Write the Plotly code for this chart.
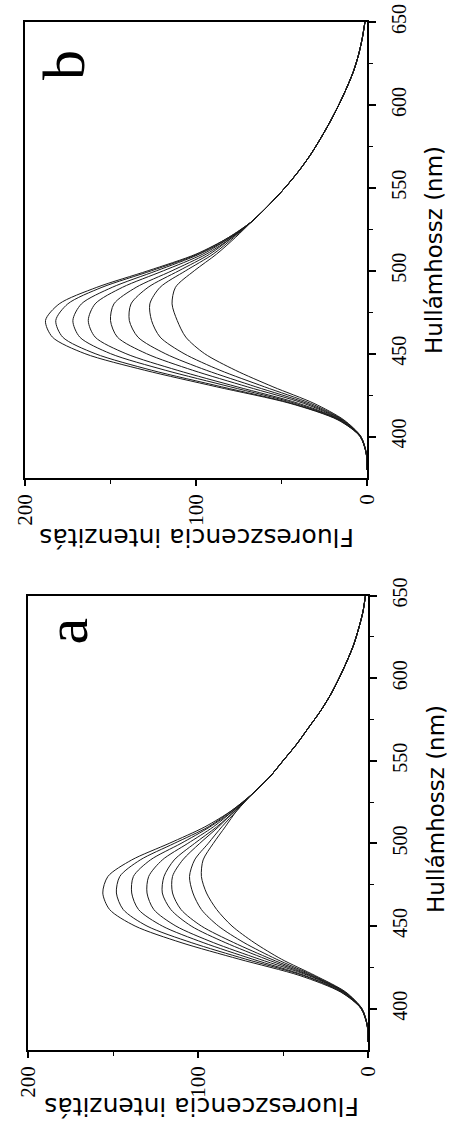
import plotly.graph_objects as go

# Wavelength grid (nm): rising part + shared red tail
WL_HEAD = [380, 390, 400, 410, 420, 430, 440, 450, 460, 470, 480, 490, 500, 510, 520, 530]
WL_TAIL = [540, 550, 560, 570, 580, 590, 600, 610, 620, 630, 640, 650]

# Panel a: fluorescence intensity, eight spectra (blue side + peak)
A1 = [0, 0.5, 4.0, 16.0, 40, 76, 110, 137, 152, 156, 153, 139, 117, 96, 80, 68]
A2 = [0, 0.5, 4.0, 15.5, 38, 72, 104, 130, 144, 148, 146, 134, 114, 94, 80, 68]
A3 = [0, 0.5, 4.0, 15.0, 37, 68, 97, 121, 135, 139, 138, 128, 110, 93, 79, 68]
A4 = [0, 0.5, 3.9, 14.5, 35, 64, 91, 113, 126, 130, 129, 121, 106, 91, 79, 68]
A5 = [0, 0.5, 3.8, 14.0, 34, 60, 84, 104, 116, 121, 120, 114, 102, 89, 78, 68]
A6 = [0, 0.4, 3.7, 14.0, 33, 57, 79, 98, 110, 115, 115, 109, 99, 88, 78, 68]
A7 = [0, 0.4, 3.6, 13.5, 32, 54, 73, 88, 98, 103, 105, 102, 94, 86, 77, 68]
A8 = [0, 0.4, 3.5, 13.0, 31, 51, 67, 80, 89, 95, 98, 97, 91, 84, 77, 68]
TAIL_A = [58, 50, 42, 35, 28, 22, 17, 12.5, 8.5, 5.5, 3.0, 1.5]

# Panel b: fluorescence intensity, eight spectra (blue side + peak)
B1 = [0, 0.5, 4.0, 17.0, 45, 88, 130, 165, 184, 188, 180, 158, 128, 100, 81, 67]
B2 = [0, 0.5, 4.0, 16.5, 44, 85, 126, 159, 178, 182, 175, 155, 126, 99, 81, 67]
B3 = [0, 0.5, 4.0, 16.0, 42, 80, 118, 150, 168, 172, 167, 149, 123, 98, 80, 67]
B4 = [0, 0.5, 3.9, 15.5, 40, 76, 111, 141, 159, 163, 159, 143, 119, 96, 80, 67]
B5 = [0, 0.5, 3.8, 15.0, 37, 70, 102, 129, 146, 150, 148, 135, 114, 94, 79, 67]
B6 = [0, 0.4, 3.7, 14.5, 35, 65, 94, 118, 134, 139, 138, 128, 110, 92, 79, 67]
B7 = [0, 0.4, 3.6, 14.0, 33, 60, 86, 107, 121, 126, 127, 121, 106, 90, 78, 67]
B8 = [0, 0.4, 3.5, 13.5, 31, 55, 77, 95, 106, 111, 114, 112, 101, 88, 77, 67]
TAIL_B = [57, 48, 40, 33, 27, 21.5, 16.5, 12, 8, 5, 2.8, 1.2]

INTENSITY_TICKS = [0, 100, 200]
WAVELENGTH_TICKS = [400, 450, 500, 550, 600, 650]

X_TITLE = "Hullámhossz (nm)"
Y_TITLE = "Fluoreszcencia intenzitás"

W, H = 450, 1134
SERIF = "Liberation Serif, Times New Roman, serif"
SANS = "DejaVu Sans, Verdana, sans-serif"

fig = go.Figure()
wl = WL_HEAD + WL_TAIL

# The spectra are drawn with wavelength running upward and intensity
# growing to the left (the whole plot is turned a quarter turn).
for name, head in zip(["a1", "a2", "a3", "a4", "a5", "a6", "a7", "a8"],
                      [A1, A2, A3, A4, A5, A6, A7, A8]):
    fig.add_trace(go.Scatter(
        x=head + TAIL_A, y=wl, mode="lines", name=name,
        line=dict(color="#1a1a1a", width=1, shape="spline", smoothing=0.8),
        xaxis="x", yaxis="y"))

for name, head in zip(["b1", "b2", "b3", "b4", "b5", "b6", "b7", "b8"],
                      [B1, B2, B3, B4, B5, B6, B7, B8]):
    fig.add_trace(go.Scatter(
        x=head + TAIL_B, y=wl, mode="lines", name=name,
        line=dict(color="#1a1a1a", width=1, shape="spline", smoothing=0.8),
        xaxis="x2", yaxis="y2"))


def intensity_axis(domain, anchor):
    return dict(
        domain=domain, anchor=anchor, range=[200, 0], automargin=False,
        tickmode="array", tickvals=INTENSITY_TICKS,
        ticktext=[str(v) for v in INTENSITY_TICKS],
        tickangle=-90, ticks="outside", ticklen=6, tickwidth=1.5,
        tickcolor="black",
        minor=dict(tickmode="array", tickvals=[50, 150], ticks="outside",
                   ticklen=4, tickwidth=1.2, tickcolor="black"),
        tickfont=dict(family=SERIF, size=21, color="black"),
        showline=True, mirror=True, linecolor="black", linewidth=1.6,
        showgrid=False, zeroline=False)


def wavelength_axis(domain, anchor):
    return dict(
        domain=domain, anchor=anchor, range=[375, 650], side="right",
        automargin=False,
        tickmode="array", tickvals=WAVELENGTH_TICKS,
        ticktext=[str(v) for v in WAVELENGTH_TICKS],
        tickangle=-90, ticks="outside", ticklen=7, tickwidth=1.5,
        tickcolor="black", ticklabelstandoff=6,
        minor=dict(tickmode="array", tickvals=[425, 475, 525, 575, 625],
                   ticks="outside", ticklen=4, tickwidth=1.2,
                   tickcolor="black"),
        tickfont=dict(family=SERIF, size=20, color="black"),
        showline=True, mirror=True, linecolor="black", linewidth=1.6,
        showgrid=False, zeroline=False)


fig.update_layout(
    template="none",
    width=W, height=H,
    margin=dict(l=0, r=0, t=0, b=0, autoexpand=False),
    paper_bgcolor="white", plot_bgcolor="white",
    showlegend=False,
    xaxis=intensity_axis([28 / W, 368 / W], "y"),
    yaxis=wavelength_axis([1 - 1050 / H, 1 - 595.5 / H], "x"),
    xaxis2=intensity_axis([25 / W, 367 / W], "y2"),
    yaxis2=wavelength_axis([1 - 478 / H, 1 - 22 / H], "x2"),
)

annotations = [
    # panel letters
    dict(text="a", x=66 / W, y=1 - 631.5 / H, textangle=-90,
         font=dict(family=SERIF, size=60, color="black")),
    dict(text="b", x=64 / W, y=1 - 65 / H, textangle=-90,
         font=dict(family=SERIF, size=60, color="black")),
    # wavelength titles
    dict(text=X_TITLE, x=436 / W, y=1 - 809 / H, textangle=-90,
         font=dict(family=SANS, size=23, color="black")),
    dict(text=X_TITLE, x=434 / W, y=1 - 250 / H, textangle=-90,
         font=dict(family=SANS, size=23, color="black")),
    # intensity titles
    dict(text=Y_TITLE, x=202 / W, y=1 - 1107 / H, textangle=180,
         font=dict(family=SANS, size=25, color="black")),
    dict(text=Y_TITLE, x=197 / W, y=1 - 537 / H, textangle=180,
         font=dict(family=SANS, size=25, color="black")),
]
for a in annotations:
    a.update(xref="paper", yref="paper", showarrow=False,
             xanchor="center", yanchor="middle")
fig.update_layout(annotations=annotations)

fig.write_html("out.html")
